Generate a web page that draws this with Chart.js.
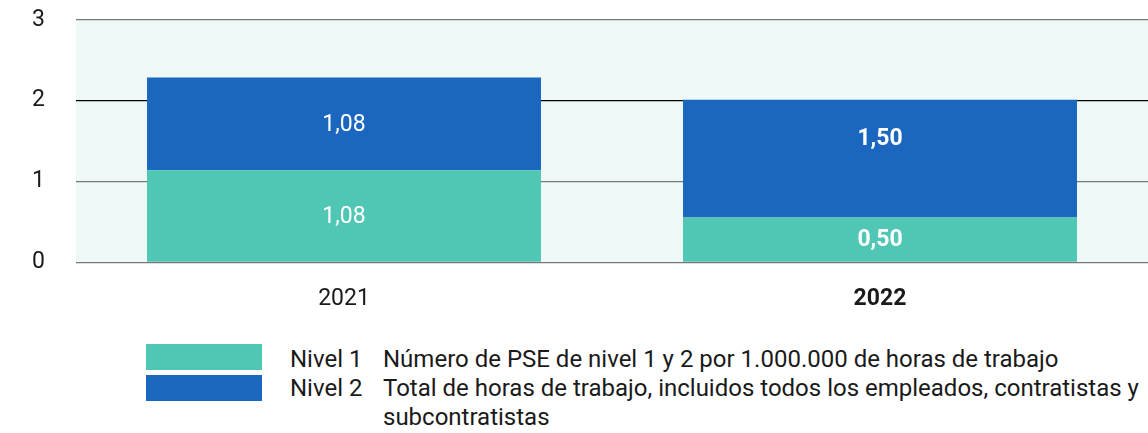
<!DOCTYPE html>
<html>
<head>
<meta charset="utf-8">
<script src="https://cdn.jsdelivr.net/npm/chart.js@4"></script>
<style>
  body { margin: 0; background: #fff; font-family: Roboto, sans-serif; color: #1a1a1a; overflow: hidden; }
  #wrap { position: relative; width: 1148px; height: 433px; overflow: hidden; }
  #pseChart { position: absolute; left: 0; top: -25px; }
  .sw { position: absolute; left: 146px; width: 116px; height: 26px; }
  .lg { position: absolute; font-size: 24px; line-height: 29px; white-space: nowrap; }
</style>
</head>
<body>
<div id="wrap">
  <canvas id="pseChart" width="1148" height="353"></canvas>
  <div class="sw" style="top:344px;background:#50c6b5"></div>
  <div class="sw" style="top:375px;background:#1b66bf"></div>
  <div class="lg" style="left:290px;top:345px">Nivel 1<br>Nivel 2</div>
  <div class="lg" style="left:383px;top:345px">Número de PSE de nivel 1 y 2 por 1.000.000 de horas de trabajo<br>Total de horas de trabajo, incluidos todos los empleados, contratistas y<br>subcontratistas</div>
</div>
<script>
// categories and values (bar heights, printed labels as shown)
const years = ['2021', '2022'];
const nivel1 = [1.14, 0.555];
const nivel2 = [1.145, 1.455];
const nivel1Text = ['1,08', '0,50'];
const nivel2Text = ['1,08', '1,50'];
const yTicks = [0, 1, 2, 3];

const green = '#50c6b5';
const blue = '#1b66bf';

// light background behind the plot area
const plotBg = {
    id: 'plotBg',
    beforeDraw(chart) {
        const a = chart.chartArea;
        const c = chart.ctx;
        c.save();
        c.fillStyle = '#eef8f6';
        c.fillRect(a.left, a.top, a.right - a.left, a.bottom - a.top);
        c.restore();
    }
};

// value labels in the middle of each segment
const segLabels = {
    id: 'segLabels',
    afterDatasetsDraw(chart) {
        const c = chart.ctx;
        const texts = [nivel1Text, nivel2Text];
        c.save();
        c.fillStyle = '#ffffff';
        c.textAlign = 'center';
        c.textBaseline = 'middle';
        chart.data.datasets.forEach((ds, di) => {
            chart.getDatasetMeta(di).data.forEach((bar, i) => {
                let y = (bar.y + bar.base) / 2 + 1;
                if (di === 1 && i === 1) y -= 20;
                c.font = (i === 1 ? 'bold ' : '') + '23px Roboto';
                c.fillText(texts[di][i], bar.x, y);
            });
        });
        c.restore();
    }
};

const pseChart = new Chart(document.getElementById('pseChart'), {
    type: 'bar',
    data: {
        labels: years,
        datasets: [
            { label: 'Nivel 1', data: nivel1, backgroundColor: green },
            { label: 'Nivel 2', data: nivel2, backgroundColor: blue }
        ]
    },
    options: {
        responsive: false,
        animation: false,
        datasets: { bar: { categoryPercentage: 1, barPercentage: 0.735 } },
        layout: { padding: 0 },
        plugins: { legend: { display: false }, tooltip: { enabled: false } },
        scales: {
            x: {
                stacked: true,
                grid: { display: false },
                border: { display: false },
                ticks: {
                    color: '#1a1a1a',
                    padding: 15,
                    font: ctx => ({ family: 'Roboto', size: 23, weight: ctx.index === 1 ? 'bold' : 'normal' })
                }
            },
            y: {
                stacked: true,
                min: 0,
                max: 3,
                afterFit(scale) { scale.width = 76; },
                afterBuildTicks(scale) { scale.ticks = yTicks.map(v => ({ value: v })); },
                border: { display: false },
                grid: {
                    drawTicks: false,
                    lineWidth: 1.2,
                    color: ctx => ctx.tick && ctx.tick.value === 2 ? '#000000' : '#777777'
                },
                ticks: {
                    color: '#1a1a1a',
                    padding: 31,
                    font: { family: 'Roboto', size: 23 }
                }
            }
        }
    },
    plugins: [plotBg, segLabels]
});
</script>
</body>
</html>
